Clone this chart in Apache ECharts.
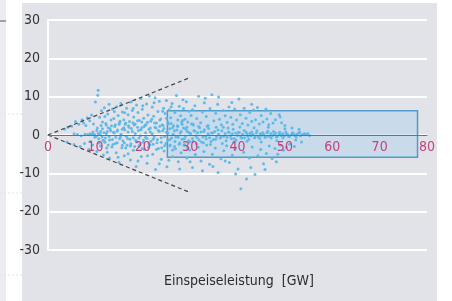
<!DOCTYPE html>
<html lang="de">
<head>
    <meta charset="UTF-8">
    <title>Einspeiseleistung</title>
    <script src="https://cdn.jsdelivr.net/npm/echarts@6/dist/echarts.min.js"></script>
    <style>
        body { margin: 0; background: #fff; }
        #main { width: 452px; height: 301px; }
    </style>
</head>
<body>
<div id="main"></div>
<script>
    // tick labels
    var xTicks = [0, 10, 20, 30, 40, 50, 60, 70, 80];
    var yTicks = [-30, -20, -10, 0, 10, 20, 30];
    var axisTitle = 'Einspeiseleistung  [GW]';

    // band of points close to zero
    var bandPoints = [
        [5.5,0.3],[6.2,0.1],[7.0,-0.2],[7.8,0.2],[8.4,0.1],[8.9,0.3],[9.3,0.2],[9.8,0.1],[10.2,-0.3],[10.6,0.4],
        [11.0,0.2],[11.4,-0.5],[11.8,0.6],[12.1,-0.8],[12.5,0.9],[12.9,-0.4],[13.2,1.1],[13.6,-1.2],[14.0,0.5],[14.3,-0.6],
        [14.7,1.3],[15.1,-1.0],[15.4,0.2],[15.8,-1.5],[16.2,1.4],[16.5,-0.3],[16.9,0.8],[17.3,-1.1],[17.6,1.7],[18.0,-0.7],
        [18.4,0.4],[18.7,-1.8],[19.1,1.2],[19.5,-0.2],[19.8,1.9],[20.2,-1.3],[20.6,0.6],[20.9,-0.9],[21.3,1.5],[21.7,-1.6],
        [22.0,0.3],[22.4,-0.5],[22.8,1.8],[23.1,-1.2],[23.5,0.9],[23.9,-1.9],[24.2,1.1],[24.6,-0.4],[25.0,0.7],[25.3,-1.4],
        [25.7,1.6],[26.1,-0.8],[26.4,0.2],[26.8,-1.7],[27.2,1.3],[27.5,-0.6],[27.9,0.5],[28.3,-1.1],[28.6,1.8],[29.0,-0.3],
        [29.4,0.9],[29.7,-1.5],[30.1,0.4],[30.5,-0.9],[30.8,1.2],[31.2,-0.2],[31.6,0.6],[31.9,-1.3],[32.3,0.8],[32.7,-0.5],
        [33.0,1.4],[33.4,-1.0],[33.8,0.3],[34.1,-0.7],[34.5,0.5],[34.9,-1.2],[35.2,0.9],[35.6,-0.4],[36.0,0.2],[36.3,-0.8],
        [36.7,1.1],[37.1,-0.3],[37.4,0.4],[37.8,-0.6],[38.2,0.7],[38.5,-0.2],[38.9,0.3],[39.3,-0.9],[39.6,0.5],[40.0,-0.1],
        [40.4,0.6],[40.7,-0.5],[41.1,0.2],[41.5,-0.7],[41.8,0.8],[42.2,-0.3],[42.6,0.4],[42.9,-0.2],[43.3,0.1],[43.7,-0.6],
        [44.0,0.5],[44.4,-0.4],[44.8,0.3],[45.1,-0.1],[45.5,0.2],[45.9,-0.5],[46.2,0.6],[46.6,-0.3],[47.0,0.4],[47.3,-0.2],
        [47.7,0.1],[48.1,0.5],[48.4,-0.4],[48.8,0.2],[49.2,-0.1],[49.5,0.3],[49.9,-0.2],[50.3,0.4],[50.6,0.1],[51.0,-0.3],
        [51.4,0.2],[51.8,0.4],[52.1,-0.1],[52.5,0.2],[52.9,0.5],[53.3,-0.2],[53.7,0.1],[54.1,0.3]
    ];

    // core spread a bit off zero
    var corePoints = [
        [10.4,1.8],[10.8,-2.1],[11.2,2.5],[11.6,-1.4],[12.2,3.0],[12.7,-2.6],[13.1,1.6],[13.5,-3.1],[14.1,2.2],[14.6,-2.0],
        [15.2,3.6],[15.7,-2.7],[16.0,1.9],[16.4,-3.4],[17.0,2.4],[17.5,-2.3],[17.9,3.2],[18.3,-3.0],[18.9,2.0],[19.4,-2.5],
        [19.8,3.4],[20.1,-1.9],[20.7,2.7],[21.2,-3.2],[21.6,1.8],[22.2,-2.4],[22.5,3.1],[23.0,-2.0],[23.6,2.3],[24.0,-3.3],
        [24.5,1.7],[24.9,-2.2],[25.4,2.9],[25.8,-2.6],[26.3,1.9],[26.7,-3.0],[27.3,2.4],[27.8,-2.1],[28.2,3.3],[28.8,-2.5],
        [29.3,2.0],[29.9,-1.8],[30.7,2.6],[31.3,-2.3],[32.0,1.9],[32.8,-2.0],[33.6,2.3],[34.4,-1.7],[35.5,2.0],[36.8,-2.2],
        [38.0,1.8],[39.2,-1.9],[40.5,2.1],[42.0,-1.6],[43.5,1.9],[45.0,-1.8],[46.5,2.0],[48.3,-1.5],[50.0,1.6],[52.3,-1.3]
    ];

    // extra points where the cloud is densest
    var densePoints = [
        [9.5,0.8],[9.9,-0.6],[10.3,1.2],[10.7,-1.0],[11.1,0.9],[11.5,1.6],[11.9,-1.6],[12.3,0.4],[12.7,1.9],[13.0,-1.3],
        [13.4,2.4],[13.8,0.7],[14.2,-2.2],[14.6,1.0],[15.0,2.8],[15.3,-0.5],[15.7,1.5],[16.1,-2.0],[16.4,3.1],[16.8,-0.9],
        [17.1,2.0],[17.4,-2.9],[17.8,0.9],[18.2,2.6],[18.5,-1.4],[18.9,3.7],[19.2,-0.8],[19.6,1.4],[19.9,-3.5],[20.3,2.2],
        [20.6,-0.6],[21.0,3.3],[21.3,-2.2],[21.6,0.8],[21.9,4.1],[22.2,-1.1],[22.6,2.0],[22.9,-3.8],[23.3,1.2],[23.6,3.9],
        [23.9,-0.7],[24.3,2.5],[24.6,-2.8],[25.0,4.4],[25.3,0.5],[25.7,-1.2],[26.0,3.0],[26.3,-3.9],[26.7,1.1],[27.0,-0.5],
        [27.4,2.2],[27.7,-2.4],[28.1,0.9],[28.4,3.8],[28.8,-1.0],[29.1,1.5],[29.5,-3.3],[29.8,0.6],[30.3,2.9],[30.6,-1.6],
        [31.0,1.0],[31.5,-0.7],[31.8,2.2],[32.4,-1.8],[32.9,0.9],[33.3,-0.3],[33.9,1.7],[34.3,-2.5],[34.8,0.6],[35.4,-1.1],
        [35.9,1.3],[36.5,-0.6],[37.0,2.0],[37.6,-1.5],[38.1,0.8],[38.7,-0.9],[39.1,1.5],[39.7,-1.3],[40.2,0.7],[40.9,-0.8],
        [41.4,1.2],[42.0,0.3],[42.4,-1.1],[43.0,0.8],[43.6,-0.7],[44.1,1.1],[44.7,-0.9],[45.3,0.6],[45.8,-0.6],[46.4,1.0],
        [47.1,-0.8],[47.6,0.9],[48.2,-0.5],[48.9,0.7],[49.6,-0.7],[50.2,0.8],[50.8,-0.4],[51.6,0.6],[52.4,-0.5],[53.1,0.7],
        [54.4,0.1],[54.8,0.4],[55.2,-0.1],
        [12.0,4.8],[14.0,6.1],[16.2,5.8],[18.0,6.9],[20.0,7.6],[22.4,8.4],[24.2,6.2],[26.0,7.4],[28.5,9.2],[30.5,6.6],
        [33.2,9.6],[36.0,9.9],[38.8,8.5],[43.0,8.0],[46.0,6.8],
        [12.5,-4.5],[14.8,-5.8],[16.9,-4.9],[19.0,-6.8],[21.0,-5.4],[23.5,-7.5],[25.5,-6.6],[27.8,-8.9],[30.0,-7.0],[32.6,-9.3],
        [34.8,-8.2],[37.4,-6.8],[39.6,-10.2],[42.8,-8.5],[45.8,-9.0],[48.2,-7.0]
    ];

    // points above the band
    var upperPoints = [
        [3.5,1.5],[4.2,2.0],[5.0,2.3],[5.8,3.5],[6.5,2.8],[7.2,4.0],[7.5,3.1],[8.0,2.5],[8.3,4.5],[8.8,3.7],
        [9.2,5.2],[9.6,2.9],[10.0,8.6],[10.5,10.4],[10.6,11.7],[10.9,4.6],[11.3,6.3],[11.5,3.4],[11.9,7.1],[12.3,2.6],
        [12.6,5.5],[12.9,8.0],[13.3,3.9],[13.6,6.8],[13.9,4.3],[14.2,2.7],[14.5,7.4],[14.8,5.1],[15.1,3.2],[15.4,8.2],
        [15.7,6.0],[16.0,4.0],[16.3,2.8],[16.6,7.0],[16.9,5.3],[17.2,3.5],[17.5,8.6],[17.8,6.4],[18.1,4.7],[18.4,2.9],
        [18.7,7.8],[19.0,5.9],[19.3,3.8],[19.6,9.5],[19.9,6.7],[20.2,4.4],[20.5,2.6],[20.8,8.1],[21.1,5.2],[21.4,10.2],
        [21.7,3.6],[22.0,7.3],[22.3,4.9],[22.6,9.7],[22.9,3.1],[23.2,6.1],[23.5,8.8],[23.8,4.2],[24.1,2.7],[24.4,7.0],
        [24.7,5.6],[25.0,9.0],[25.3,3.3],[25.6,6.6],[25.9,4.5],[26.2,8.2],[26.5,2.4],[26.8,5.9],[27.1,10.3],[27.4,3.9],
        [27.7,7.5],[28.0,5.0],[28.3,2.8],[28.6,6.9],[28.9,4.1],[29.2,8.7],[29.5,3.4],[29.8,6.2],[30.2,5.1],[30.6,2.9],
        [31.0,7.6],[31.4,4.3],[31.8,10.1],[32.2,3.2],[32.6,6.0],[33.0,8.4],[33.4,4.8],[33.8,2.5],[34.2,6.9],[34.6,10.5],
        [35.0,3.7],[35.4,5.7],[35.8,8.0],[36.2,4.1],[36.6,2.7],[37.0,6.4],[37.4,5.0],[37.8,3.3],[38.2,7.3],[38.6,4.6],
        [39.0,2.8],[39.4,6.8],[39.8,3.9],[40.3,9.4],[40.6,5.3],[41.0,3.0],[41.4,7.0],[41.8,4.4],[42.2,2.6],[42.6,5.9],
        [43.0,3.6],[43.4,6.5],[43.8,4.0],[44.2,7.2],[44.6,2.9],[45.0,5.1],[45.4,3.4],[45.8,6.3],[46.2,4.2],[46.6,2.7],
        [47.0,5.6],[47.5,3.1],[48.0,4.0],[48.8,5.3],[49.0,4.7],[49.3,3.2],[50.0,2.5],[51.5,1.8],[53.0,1.5]
    ];

    // points below the band
    var lowerPoints = [
        [4.0,-1.8],[5.5,-2.5],[6.8,-3.0],[7.7,-2.2],[8.6,-3.8],[9.0,-1.7],[9.4,-2.6],[10.3,-4.3],[11.1,-2.9],[11.7,-5.2],
        [12.0,-1.9],[12.4,-3.4],[13.0,-6.0],[13.7,-2.5],[14.4,-4.6],[15.0,-7.1],[15.6,-3.3],[16.1,-5.4],[16.7,-2.7],[17.4,-6.5],
        [18.0,-4.0],[18.6,-8.2],[19.2,-2.9],[19.7,-5.6],[20.3,-3.7],[20.9,-7.4],[21.5,-2.6],[22.1,-5.0],[22.7,-9.0],[23.3,-3.5],
        [23.9,-6.3],[24.5,-4.2],[25.1,-8.3],[25.7,-2.8],[26.3,-5.7],[26.9,-3.6],[27.5,-7.0],[28.1,-4.6],[28.7,-2.7],[29.3,-6.0],
        [29.9,-3.9],[30.5,-8.5],[31.1,-5.1],[31.7,-3.2],[32.3,-6.8],[32.9,-4.3],[33.5,-2.6],[34.1,-7.6],[34.7,-5.0],[35.3,-3.4],
        [35.9,-9.8],[36.5,-6.2],[37.1,-4.1],[37.7,-2.8],[38.3,-7.2],[38.9,-5.3],[39.5,-3.6],[40.1,-8.9],[40.7,-14.0],[41.3,-4.5],
        [41.9,-11.5],[42.5,-6.0],[43.1,-3.1],[43.7,-10.3],[44.3,-5.4],[44.9,-3.8],[45.5,-7.5],[46.1,-4.8],[46.7,-2.9],[47.3,-6.1],
        [47.9,-3.5],[48.5,-5.0],[49.1,-2.7],[49.7,-4.0],[50.3,-3.2],[51.0,-2.4],[52.0,-3.0],[53.5,-1.8]
    ];

    // dashed envelope lines and the highlighted box
    var upperLine = [[0, 0], [30, 15]];
    var lowerLine = [[0, 0], [30, -15]];
    var boxFrom = [25.2, -5.8];
    var boxTo = [78, 6.3];

    var allPoints = bandPoints.concat(corePoints, densePoints, upperPoints, lowerPoints);

    var myChart = echarts.init(document.getElementById('main'));
    var font = 'DejaVu Sans Condensed';

    var option = {
        animation: false,
        backgroundColor: '#ffffff',
        textStyle: { fontFamily: font },
        graphic: [
            { type: 'rect', z: -10, shape: { x: 0, y: 0, width: 6, height: 301 }, style: { fill: '#ececf0' } },
            { type: 'line', z: -10, shape: { x1: 0, y1: 21, x2: 6, y2: 21 }, style: { stroke: '#555', lineWidth: 1 } },
            { type: 'line', z: -10, shape: { x1: 0, y1: 114, x2: 22, y2: 114 }, style: { stroke: '#e4e4e8', lineWidth: 1, lineDash: [2, 2] } },
            { type: 'line', z: -10, shape: { x1: 0, y1: 193, x2: 22, y2: 193 }, style: { stroke: '#e4e4e8', lineWidth: 1, lineDash: [2, 2] } },
            { type: 'line', z: -10, shape: { x1: 0, y1: 275, x2: 22, y2: 275 }, style: { stroke: '#e4e4e8', lineWidth: 1, lineDash: [2, 2] } },
            { type: 'rect', z: -10, shape: { x: 22, y: 3, width: 415, height: 298 }, style: { fill: '#e2e3e8' } },
            {
                type: 'text', left: 164, top: 274,
                style: { text: axisTitle, fill: '#2b2b2b', font: '14px "' + font + '"' }
            }
        ],
        grid: { left: 48, right: 25, top: 20, bottom: 51 },
        xAxis: {
            type: 'value',
            min: xTicks[0],
            max: xTicks[xTicks.length - 1],
            interval: 10,
            position: 'bottom',
            offset: -115,
            z: 10,
            axisLine: { onZero: false, lineStyle: { color: '#c4427f', width: 1 } },
            axisTick: { show: false },
            splitLine: { show: false },
            axisLabel: { color: '#c4427f', fontSize: 14, margin: 5, fontFamily: font }
        },
        yAxis: {
            type: 'value',
            min: yTicks[0],
            max: yTicks[yTicks.length - 1],
            interval: 10,
            axisLine: { show: true, lineStyle: { color: '#ffffff', width: 2 } },
            axisTick: { show: false },
            splitLine: { lineStyle: { color: '#ffffff', width: 2 } },
            axisLabel: { color: '#333333', fontSize: 14, margin: 8, fontFamily: font }
        },
        series: [
            {
                type: 'scatter',
                data: allPoints,
                symbolSize: 3,
                itemStyle: { color: '#5cb7e8', opacity: 0.95 },
                markArea: {
                    silent: true,
                    itemStyle: { color: 'rgba(175,212,238,0.5)', borderColor: '#4f9bcc', borderWidth: 1.5 },
                    data: [[{ coord: boxFrom }, { coord: boxTo }]]
                },
                z: 3
            },
            {
                type: 'line',
                data: upperLine,
                symbol: 'none',
                lineStyle: { color: '#444444', width: 1.2, type: [4, 3] },
                z: 4
            },
            {
                type: 'line',
                data: lowerLine,
                symbol: 'none',
                lineStyle: { color: '#444444', width: 1.2, type: [4, 3] },
                z: 4
            }
        ]
    };
    myChart.setOption(option);
</script>
</body>
</html>
